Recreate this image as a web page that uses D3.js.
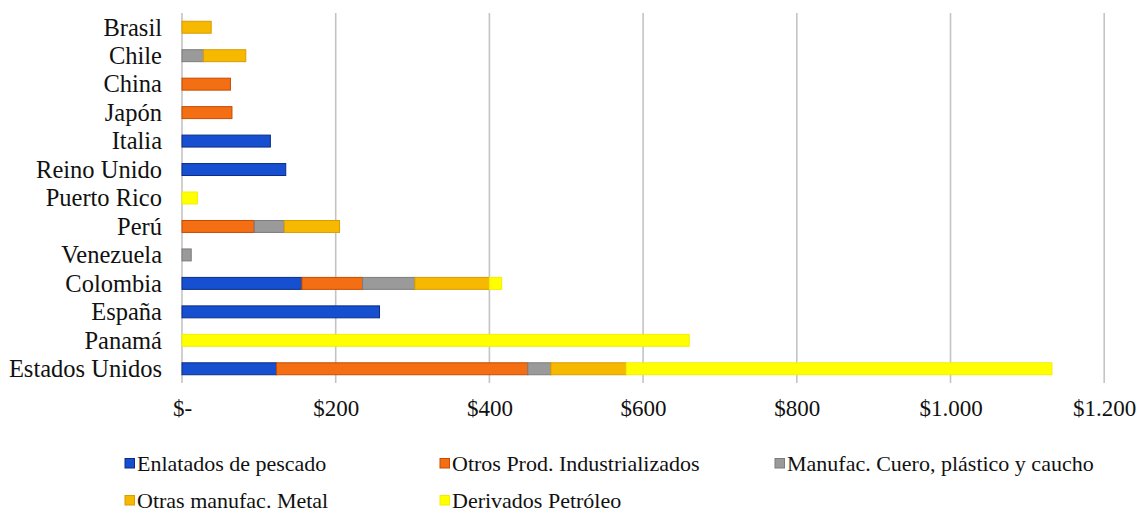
<!DOCTYPE html>
<html>
<head>
<meta charset="utf-8">
<script src="https://cdn.jsdelivr.net/npm/d3@7"></script>
<style>
  body { margin: 0; background: #fff; }
  svg text { font-family: "Liberation Serif", "DejaVu Serif", serif; fill: #111; }
</style>
</head>
<body>
<div id="chart"></div>
<script>
// Data ///////////////////////////////////////

var countries = ["Brasil", "Chile", "China", "Japón", "Italia", "Reino Unido", "Puerto Rico",
                 "Perú", "Venezuela", "Colombia", "España", "Panamá", "Estados Unidos"];

var seriesNames = ["Enlatados de pescado", "Otros Prod. Industrializados",
                   "Manufac. Cuero, plástico y caucho", "Otras manufac. Metal", "Derivados Petróleo"];

var enlatados  = [0, 0, 0, 0, 115, 135, 0, 0, 0, 156, 257, 0, 123];
var otrosProd  = [0, 0, 63, 65, 0, 0, 0, 94, 0, 79, 0, 0, 327];
var manufCuero = [0, 28, 0, 0, 0, 0, 0, 39, 12, 68, 0, 0, 30];
var manufMetal = [38, 55, 0, 0, 0, 0, 0, 72, 0, 97, 0, 0, 98];
var derivados  = [0, 0, 0, 0, 0, 0, 20, 0, 0, 16, 0, 660, 554];

var tickValues = [0, 200, 400, 600, 800, 1000, 1200];
var tickLabels = ["$-", "$200", "$400", "$600", "$800", "$1.000", "$1.200"];

var fills   = ["#1650d0", "#f46e14", "#9a9a9a", "#f7b900", "#ffff00"];
var strokes = ["#0a2c86", "#c44c00", "#7c7c7c", "#d99c00", "#f2ee00"];

// Parameters /////////////////////////////////

var width = 1140, height = 512;
var margin = { top: 13, left: 182, right: 36, bottom: 129 };

var svg = d3.select("#chart").append("svg")
    .attr("width", width)
    .attr("height", height);

var rows = countries.map(function(c, i) {
  return { country: c, values: [enlatados[i], otrosProd[i], manufCuero[i], manufMetal[i], derivados[i]] };
});

var stack = d3.stack()
    .keys(d3.range(seriesNames.length))
    .value(function(d, k) { return d.values[k]; });
var stacked = stack(rows);

// Scales /////////////////////////////////////

var x = d3.scaleLinear()
    .domain([0, 1200])
    .range([margin.left, margin.left + 153.7 * 6]);

var y = d3.scaleBand()
    .domain(countries)
    .range([margin.top, height - margin.bottom])
    .paddingInner(0.58)
    .paddingOuter(0.29);

// Grid ///////////////////////////////////////

svg.append("g")
  .selectAll("line")
  .data(tickValues)
  .enter().append("line")
    .attr("x1", function(d) { return x(d); })
    .attr("x2", function(d) { return x(d); })
    .attr("y1", 13)
    .attr("y2", 383)
    .attr("stroke", "#c4c4c4")
    .attr("stroke-width", 1.6);

// Bars ///////////////////////////////////////

svg.append("g")
  .selectAll("g")
  .data(stacked)
  .enter().append("g")
    .attr("fill", function(d) { return fills[d.key]; })
    .attr("stroke", function(d) { return strokes[d.key]; })
  .selectAll("rect")
  .data(function(d) { return d.filter(function(p) { return p[1] - p[0] > 0; }); })
  .enter().append("rect")
    .attr("x", function(d) { return x(d[0]); })
    .attr("width", function(d) { return x(d[1]) - x(d[0]); })
    .attr("y", function(d) { return y(d.data.country); })
    .attr("height", y.bandwidth())
    .attr("stroke-width", 1);

// Axes ///////////////////////////////////////

var xAxis = d3.axisBottom(x)
    .tickValues(tickValues)
    .tickSize(0)
    .tickPadding(0)
    .tickFormat(function(d, i) { return tickLabels[i]; });

svg.append("g")
    .attr("transform", "translate(0,399)")
    .call(xAxis)
    .call(function(g) {
      g.select(".domain").remove();
      g.selectAll(".tick text")
        .attr("dy", "0.75em")
        .style("font-size", "23px")
        .attr("font-family", null)
        .attr("fill", "#111");
    });

var yAxis = d3.axisLeft(y)
    .tickSize(0)
    .tickPadding(0);

svg.append("g")
    .attr("transform", "translate(" + 162 + ",0)")
    .call(yAxis)
    .call(function(g) {
      g.select(".domain").remove();
      g.selectAll(".tick text")
        .attr("dy", "0.34em")
        .style("font-size", "24.5px")
        .attr("font-family", null)
        .attr("fill", "#111");
    });

// Legend /////////////////////////////////////

var legendPos = [[125, 463], [440, 463], [775, 463], [125, 500], [440, 500]];

var legend = svg.append("g")
  .selectAll("g")
  .data(seriesNames)
  .enter().append("g")
    .attr("transform", function(d, i) { return "translate(" + legendPos[i][0] + "," + legendPos[i][1] + ")"; });

legend.append("rect")
    .attr("x", 0)
    .attr("y", -4.5)
    .attr("width", 9.5)
    .attr("height", 9.5)
    .attr("fill", function(d, i) { return fills[i]; })
    .attr("stroke", function(d, i) { return strokes[i]; });

legend.append("text")
    .attr("x", 12)
    .attr("dy", "0.35em")
    .style("font-size", "22px")
    .text(function(d) { return d; });
</script>
</body>
</html>
